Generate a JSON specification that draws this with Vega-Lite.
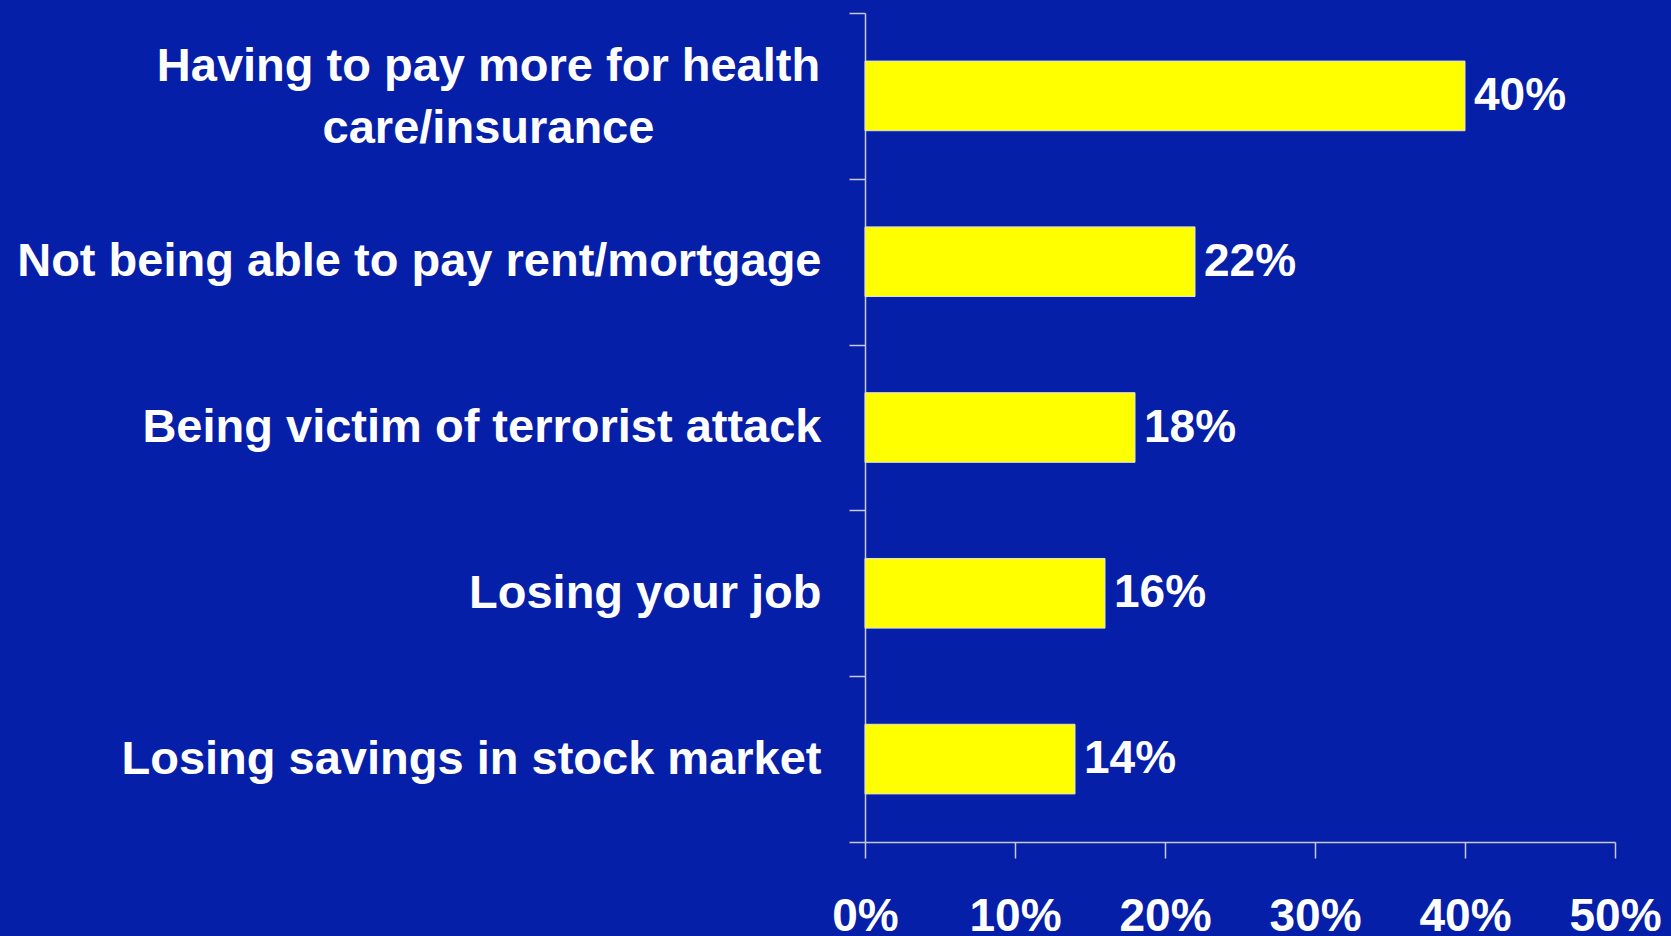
{
  "$schema": "https://vega.github.io/schema/vega-lite/v6.json",
  "autosize": {"type": "none"},
  "width": 750,
  "height": 829,
  "padding": {"left": 865, "top": 13, "right": 56, "bottom": 94},
  "background": "#061FA9",
  "config": {"view": {"stroke": null}, "font": "Liberation Sans"},
  "data": {
    "values": [
      {"concern": "Having to pay more for health care/insurance", "pct": 0.40},
      {"concern": "Not being able to pay rent/mortgage", "pct": 0.22},
      {"concern": "Being victim of terrorist attack", "pct": 0.18},
      {"concern": "Losing your job", "pct": 0.16},
      {"concern": "Losing savings in stock market", "pct": 0.14}
    ]
  },
  "encoding": {
    "y": {
      "field": "concern",
      "type": "nominal",
      "sort": null,
      "scale": {"paddingInner": 0, "paddingOuter": 0},
      "axis": {
        "title": null,
        "domainColor": "#C8C8D8",
        "domainWidth": 1.5,
        "tickColor": "#C8C8D8",
        "tickWidth": 1.5,
        "tickSize": 16,
        "tickBand": "extent",
        "labelColor": "white",
        "labelFont": "Liberation Sans",
        "labelFontSize": 47,
        "labelFontWeight": "bold",
        "labelLimit": 0,
        "labelLineHeight": 62,
        "labelBaseline": "middle",
        "labelExpr": "datum.value === 'Having to pay more for health care/insurance' ? ['Having to pay more for health', 'care/insurance'] : datum.label",
        "labelAlign": {"condition": {"test": "datum.value === 'Having to pay more for health care/insurance'", "value": "center"}, "value": "right"},
        "labelPadding": {"condition": {"test": "datum.value === 'Having to pay more for health care/insurance'", "value": 361}, "value": 28},
        "labelOffset": {"condition": {"test": "datum.value === 'Having to pay more for health care/insurance'", "value": -29}, "value": 0}
      }
    },
    "x": {
      "field": "pct",
      "type": "quantitative",
      "scale": {"domain": [0, 0.5], "nice": false},
      "axis": {
        "title": null,
        "grid": false,
        "values": [0, 0.1, 0.2, 0.3, 0.4, 0.5],
        "format": ".0%",
        "domainColor": "#C8C8D8",
        "domainWidth": 1.5,
        "tickColor": "#C8C8D8",
        "tickWidth": 1.5,
        "tickSize": 16,
        "labelColor": "white",
        "labelFont": "Liberation Sans",
        "labelFontSize": 46,
        "labelFontWeight": "bold",
        "labelFlush": false,
        "labelPadding": 36
      }
    }
  },
  "layer": [
    {"mark": {"type": "bar", "color": "#FFFF00", "stroke": "#E0E0E0", "strokeWidth": 1, "height": {"band": 0.42}}},
    {
      "mark": {"type": "text", "align": "left", "baseline": "middle", "dx": 9, "font": "Liberation Sans", "fontWeight": "bold", "fontSize": 46, "color": "white"},
      "encoding": {"text": {"field": "pct", "type": "quantitative", "format": ".0%"}}
    }
  ]
}
